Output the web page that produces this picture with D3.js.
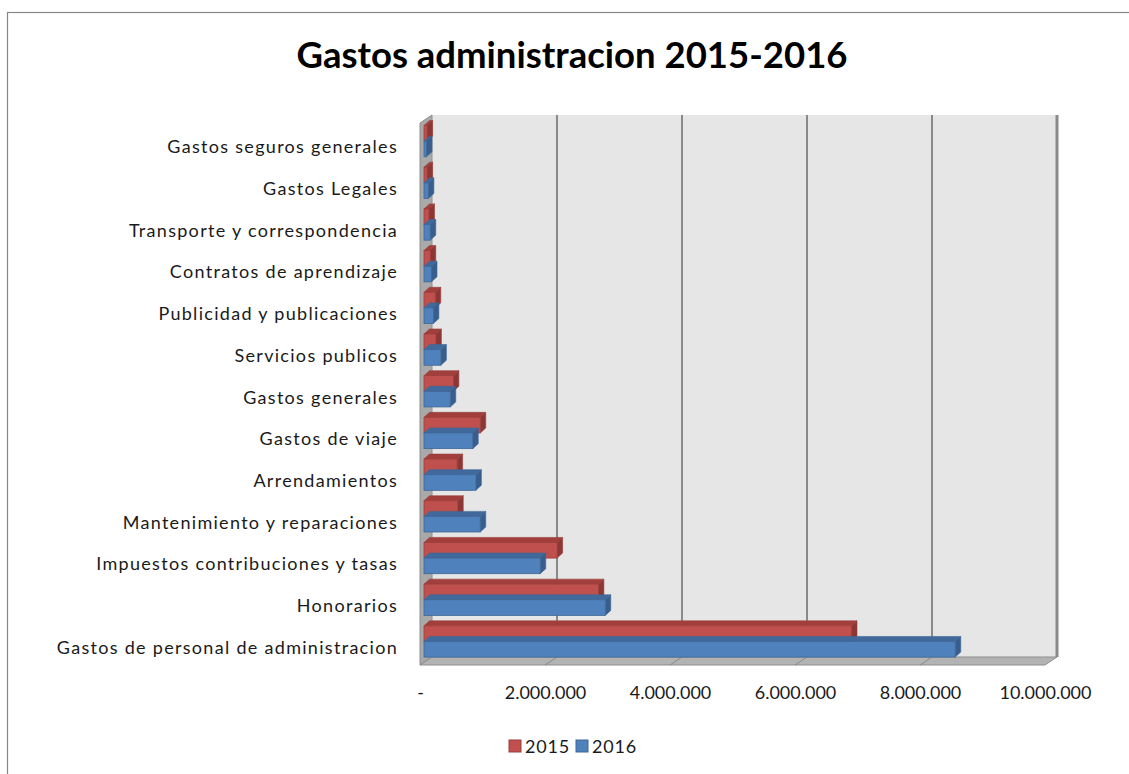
<!DOCTYPE html>
<html>
<head>
<meta charset="utf-8">
<script src="https://cdn.jsdelivr.net/npm/d3@7"></script>
<style>
  body { margin: 0; background: #fff; }
  svg { display: block; font-family: Lato, "Open Sans", sans-serif; }
</style>
</head>
<body>
<svg id="chart" width="1129" height="774"></svg>
<script>
// data, top to bottom as shown
const categories = [
  "Gastos seguros generales",
  "Gastos Legales",
  "Transporte y correspondencia",
  "Contratos de aprendizaje",
  "Publicidad y publicaciones",
  "Servicios publicos",
  "Gastos generales",
  "Gastos de viaje",
  "Arrendamientos",
  "Mantenimiento y reparaciones",
  "Impuestos contribuciones y tasas",
  "Honorarios",
  "Gastos de personal de administracion"
];
const series = ["2015", "2016"];
const values2015 = [50000, 50000, 80000, 100000, 180000, 190000, 470000, 900000, 530000, 540000, 2130000, 2790000, 6840000];
const values2016 = [40000, 70000, 100000, 120000, 150000, 270000, 420000, 780000, 830000, 900000, 1860000, 2900000, 8500000];
const xTicks = [0, 2000000, 4000000, 6000000, 8000000, 10000000];
const colors = {
  "2015": { front: "#C0504D", top: "#A23F3C", side: "#8C3735", stroke: "#9B3E3B" },
  "2016": { front: "#4F81BD", top: "#41699B", side: "#375E8C", stroke: "#3D6797" }
};

const svg = d3.select("#chart");

// outer chart border (runs off the page right and bottom)
svg.append("rect")
  .attr("x", 7.5).attr("y", 12.5)
  .attr("width", 1200).attr("height", 800)
  .attr("fill", "#fff").attr("stroke", "#878787").attr("stroke-width", 1.2);

svg.append("text")
  .attr("x", 572).attr("y", 68)
  .attr("text-anchor", "middle")
  .attr("font-weight", "bold")
  .attr("font-size", 36.5)
  .attr("fill", "#000")
  .text("Gastos administracion 2015-2016");

// front plane scales
const top0 = 123, bottom0 = 665;
const x = d3.scaleLinear().domain([0, 10000000]).range([420, 1045]);
const y = d3.scaleBand().domain(categories).range([top0, bottom0]).paddingInner(0.25).paddingOuter(0.125);
const ySub = d3.scaleBand().domain(series).range([0, y.bandwidth()]);

// depth of the box and of the bars
const wallDx = 12, wallDy = -8;
const barOx = 4, barOy = -2.7, barDx = 5.5, barDy = -5;

const x0 = x(0), x1 = x(10000000);

const pts = a => a.map(p => p.join(",")).join(" ");

// back wall
svg.append("polygon")
  .attr("points", pts([[x0 + wallDx, top0 + wallDy], [x1 + wallDx, top0 + wallDy], [x1 + wallDx, bottom0 + wallDy], [x0 + wallDx, bottom0 + wallDy]]))
  .attr("fill", "#E6E6E6");

// left wall
svg.append("polygon")
  .attr("points", pts([[x0, top0], [x0 + wallDx, top0 + wallDy], [x0 + wallDx, bottom0 + wallDy], [x0, bottom0]]))
  .attr("fill", "#A9A9A9").attr("stroke", "#8E8E8E").attr("stroke-width", 1);

// floor
svg.append("polygon")
  .attr("points", pts([[x0, bottom0], [x0 + wallDx, bottom0 + wallDy], [x1 + wallDx, bottom0 + wallDy], [x1, bottom0]]))
  .attr("fill", "#B3B3B3").attr("stroke", "#8E8E8E").attr("stroke-width", 1);

// gridlines on back wall + floor
const grid = svg.append("g");
grid.selectAll(".gl")
  .data(xTicks.slice(1))
  .join("line")
  .attr("x1", d => x(d) + wallDx).attr("x2", d => x(d) + wallDx)
  .attr("y1", top0 + wallDy).attr("y2", bottom0 + wallDy)
  .attr("stroke", "#8A8A8A").attr("stroke-width", d => d === 10000000 ? 3 : 2);
grid.selectAll(".fl")
  .data(xTicks.slice(1, -1))
  .join("line")
  .attr("x1", d => x(d) + wallDx).attr("y1", bottom0 + wallDy)
  .attr("x2", d => x(d)).attr("y2", bottom0)
  .attr("stroke", "#8A8A8A").attr("stroke-width", 1);

// bars, drawn bottom to top so the fronts cover the top faces
const rows = [];
categories.forEach((c, i) => {
  rows.push({ cat: c, s: "2016", v: values2016[i] });
  rows.push({ cat: c, s: "2015", v: values2015[i] });
});
rows.reverse();

const bars = svg.append("g").selectAll("g")
  .data(rows)
  .join("g");

bars.each(function (d) {
  const g = d3.select(this);
  const c = colors[d.s];
  const L = x(0) + barOx, R = x(d.v) + barOx;
  const T = y(d.cat) + ySub(d.s) + barOy, B = T + ySub.bandwidth();
  g.append("polygon")
    .attr("points", pts([[L, T], [L + barDx, T + barDy], [R + barDx, T + barDy], [R, T]]))
    .attr("fill", c.top).attr("stroke", c.stroke).attr("stroke-width", 0.6);
  g.append("polygon")
    .attr("points", pts([[R, T], [R + barDx, T + barDy], [R + barDx, B + barDy], [R, B]]))
    .attr("fill", c.side).attr("stroke", c.stroke).attr("stroke-width", 0.6);
  g.append("rect")
    .attr("x", L).attr("y", T)
    .attr("width", R - L).attr("height", B - T)
    .attr("fill", c.front).attr("stroke", c.stroke).attr("stroke-width", 0.8);
});

// category labels
svg.append("g").selectAll("text")
  .data(categories)
  .join("text")
  .attr("x", 398)
  .attr("y", d => y(d) + y.bandwidth() / 2 + 9.5)
  .attr("text-anchor", "end")
  .attr("font-size", 18)
  .attr("letter-spacing", 1.3)
  .attr("fill", "#1a1a1a")
  .text(d => d);

// x axis labels
const fmt = d3.formatLocale({ decimal: ",", thousands: ".", grouping: [3], currency: ["$", ""] }).format(",.0f");
const xAxis = d3.axisBottom(x)
  .tickValues(xTicks)
  .tickSize(0)
  .tickFormat(d => d === 0 ? "-" : fmt(d));
const ax = svg.append("g").call(xAxis);
ax.select(".domain").remove();
ax.selectAll("text")
  .attr("y", 699).attr("dy", 0)
  .attr("font-family", "Lato, sans-serif")
  .attr("font-size", 18)
  .attr("fill", "#1a1a1a");

// legend
const legendX = d3.scaleBand().domain(series).range([509, 643]);
const lg = svg.append("g").selectAll("g")
  .data(series)
  .join("g")
  .attr("transform", d => `translate(${legendX(d)},740)`);
lg.append("rect")
  .attr("width", 12).attr("height", 12)
  .attr("fill", d => colors[d].front)
  .attr("stroke", d => colors[d].stroke).attr("stroke-width", 1);
lg.append("text")
  .attr("x", 16).attr("y", 13)
  .attr("font-size", 18)
  .attr("letter-spacing", 0.8)
  .attr("fill", "#1a1a1a")
  .text(d => d);
</script>
</body>
</html>
